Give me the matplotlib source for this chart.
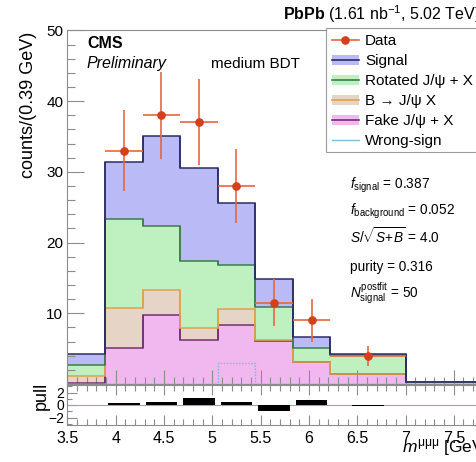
import numpy as np
import matplotlib
matplotlib.use('Agg')
import matplotlib.pyplot as plt
from matplotlib.patches import Rectangle
from matplotlib.ticker import MultipleLocator, FixedLocator, NullFormatter

plt.rcParams['font.family'] = ['Liberation Sans', 'DejaVu Sans']
plt.rcParams['mathtext.fontset'] = 'custom'
plt.rcParams['mathtext.rm'] = 'Liberation Sans'
plt.rcParams['mathtext.it'] = 'Liberation Sans:italic'
plt.rcParams['mathtext.bf'] = 'Liberation Sans:bold'
plt.rcParams['mathtext.sf'] = 'Liberation Sans'

# ---------------- data ----------------
bin_edges = [3.5, 3.889, 4.278, 4.667, 5.056, 5.444, 5.833, 6.222, 7.0, 8.0]
fake = [0.15, 5.05, 9.8, 6.2, 8.35, 6.15, 3.07, 1.41, 0.25]
b_to_jpsi = [1.0, 5.65, 3.5, 1.77, 2.25, 0.05, 0.03, 0.04, 0.02]
rotated = [1.55, 12.6, 9.0, 9.43, 6.2, 4.7, 1.95, 2.7, 0.03]
signal = [1.6, 8.1, 12.8, 13.1, 8.8, 3.9, 1.55, 0.03, 0.0]
wrong_sign = [0.0, 0.0, 0.0, 0.0, 3.0, 0.0, 0.0, 0.0, 0.0]

data_bins = [1, 2, 3, 4, 5, 6, 7]
data_vals = [33, 38, 37, 28, 11.5, 9, 4]
data_errs = [5.74, 6.16, 6.08, 5.29, 3.3, 3.0, 1.41]
pull_vals = [0.3, 0.5, 1.05, 0.45, -0.95, 0.75, -0.08]

legend_labels = ['Data', 'Signal', 'Rotated J/\u03c8 + X', 'B \u2192 J/\u03c8 X',
                 'Fake J/\u03c8 + X', 'Wrong-sign']
info_texts = [r'$f_{\mathrm{signal}}$ = 0.387',
              r'$f_{\mathrm{background}}$ = 0.052',
              r'$S/\sqrt{S\!+\!B}$ = 4.0',
              'purity = 0.316',
              r'$N^{\mathrm{postfit}}_{\mathrm{signal}}$ = 50']

# ---------------- styles ----------------
c_sig_f, c_sig_e = '#babaf7', '#2c2c64'
c_rot_f, c_rot_e = '#bff0c0', '#3a7c52'
c_b_f, c_b_e = '#e6d5c6', '#dfa24a'
c_fake_f, c_fake_e = '#f1b8f0', '#72306f'
c_ws = '#7cc0d4'
c_data = '#d4401c'
c_data_err = '#e2693f'
grey = '#8c8c8c'

W, H = 477, 462
fig = plt.figure(figsize=(W / 100, H / 100), dpi=100)

def fx(p):
    return p / W

def fy(p):
    return 1 - p / H

x_left, x_right = 67.4, 495.0
px_per_gev = 96.6
xmax = 3.5 + (x_right - x_left) / px_per_gev

ax = fig.add_axes([fx(x_left), fy(384), (x_right - x_left) / W, (384 - 29.7) / H])
axp = fig.add_axes([fx(x_left), fy(425), (x_right - x_left) / W, 40 / H])

edges = np.array(bin_edges)
fake_a = np.array(fake)
b_a = np.array(b_to_jpsi)
rot_a = np.array(rotated)
sig_a = np.array(signal)

t1 = fake_a
t2 = t1 + b_a
t3 = t2 + rot_a
t4 = t3 + sig_a

layers = [(np.zeros_like(t1), t1, c_fake_f, c_fake_e),
          (t1, t2, c_b_f, c_b_e),
          (t2, t3, c_rot_f, c_rot_e),
          (t3, t4, c_sig_f, c_sig_e)]
for lo, hi, fc, ec in layers:
    ax.stairs(hi, edges, baseline=lo, fill=True, color=fc, lw=0, zorder=1)
for lo, hi, fc, ec in layers:
    ax.stairs(hi, edges, baseline=None, fill=False, color=ec, lw=1.1, zorder=2)
    # vertical edges between bins
    ax.vlines(edges[1:-1], np.minimum(hi[:-1], hi[1:]), np.maximum(hi[:-1], hi[1:]),
              color=ec, lw=1.1, zorder=2)

ax.stairs(wrong_sign, edges, baseline=0, fill=False, color=c_ws, lw=1.0,
          linestyle=(0, (1.2, 1.0)), zorder=3)
ax.axhline(0, color=c_ws, lw=1.0, zorder=3)

centers = 0.5 * (edges[:-1] + edges[1:])
halfw = 0.5 * (edges[1:] - edges[:-1])
dx = centers[data_bins]
dxe = halfw[data_bins]
ax.errorbar(dx, data_vals, yerr=data_errs, xerr=dxe, fmt='none', ecolor=c_data_err,
            elinewidth=1.2, capsize=0, zorder=5)
ax.plot(dx, data_vals, 'o', color=c_data, ms=5.2, zorder=6)

ax.set_xlim(3.5, xmax)
ax.set_ylim(0, 50.1)
ax.set_yticks([10, 20, 30, 40, 50])
ax.yaxis.set_minor_locator(FixedLocator([v for v in range(2, 50, 2) if v % 10 != 0]))
ax.xaxis.set_major_locator(MultipleLocator(0.5))
ax.xaxis.set_minor_locator(MultipleLocator(0.1))
ax.xaxis.set_major_formatter(NullFormatter())
ax.tick_params(axis='both', which='both', direction='in', color=grey, labelsize=11,
               top=False, right=False)
ax.tick_params(axis='y', which='major', length=12, width=0.8, pad=3)
ax.tick_params(axis='y', which='minor', length=6, width=0.8)
ax.tick_params(axis='x', which='major', length=10, width=0.8)
ax.tick_params(axis='x', which='minor', length=5, width=0.8)
for s in ax.spines.values():
    s.set_color(grey)
    s.set_linewidth(0.8)

# pull panel
pw = 0.327
axp.bar(dx, pull_vals, width=pw, color='black', zorder=3)
axp.axhline(0, color='#8aa4d6', lw=0.8, zorder=2)
axp.set_xlim(3.5, xmax)
axp.set_ylim(-3.2, 3.2)
axp.set_yticks([-2, 0, 2])
axp.set_yticklabels(['\u22122', '0', '2'])
axp.yaxis.set_minor_locator(FixedLocator([-3, -1, 1, 3]))
axp.xaxis.set_major_locator(MultipleLocator(0.5))
axp.xaxis.set_minor_locator(MultipleLocator(0.1))
axp.set_xticks([3.5, 4, 4.5, 5, 5.5, 6, 6.5, 7, 7.5])
axp.set_xticklabels(['3.5', '4', '4.5', '5', '5.5', '6', '6.5', '7', '7.5'])
axp.tick_params(axis='both', which='both', direction='in', color=grey,
                top=True, bottom=True, right=False)
axp.tick_params(axis='x', which='major', length=7, width=0.8, labelsize=11.5, pad=4)
axp.tick_params(axis='x', which='minor', length=4, width=0.8)
axp.tick_params(axis='y', which='major', length=7, width=0.8, labelsize=10, pad=2)
axp.tick_params(axis='y', which='minor', length=3.5, width=0.8)
for s in axp.spines.values():
    s.set_color(grey)
    s.set_linewidth(0.8)

# overlay for texts / legend in pixel coordinates
ov = fig.add_axes([0, 0, 1, 1], zorder=10)
ov.set_xlim(0, W)
ov.set_ylim(H, 0)
ov.axis('off')
ov.patch.set_alpha(0)

ov.text(29, 32, 'counts/(0.39 GeV)', rotation=90, ha='center', va='top', fontsize=13)
ov.text(41, 396, 'pull', rotation=90, ha='center', va='center', fontsize=13)
ov.text(402, 452, r'$m^{\mathrm{\mu\mu\mu}}$ [GeV]', ha='left', va='baseline', fontsize=12.5)

ov.text(87, 48.3, 'CMS', fontweight='bold', fontsize=11.5, va='baseline')
ov.text(87, 68.3, 'Preliminary', style='italic', fontsize=11.5, va='baseline')
ov.text(210.7, 68.3, 'medium BDT', fontsize=11, va='baseline')
ov.text(283, 20, r'$\mathbf{PbPb}$ (1.61 nb$^{-1}$, 5.02 TeV)', fontsize=11.5, va='baseline')

info_base = [188.3, 215, 243.3, 271, 297.7]
for t, yb in zip(info_texts, info_base):
    ov.text(350, yb, t, fontsize=9.8, va='baseline')

# legend
ov.add_patch(Rectangle((326, 27.7), 170, 124, fc='white', ec='#9a9a9a', lw=0.8, zorder=1))
leg_base = [45, 65, 85, 105, 125, 145.3]
hx0, hx1 = 331.7, 359.3
fills = [None, (c_sig_f, c_sig_e), (c_rot_f, c_rot_e), (c_b_f, c_b_e), (c_fake_f, c_fake_e), None]
for i, (lab, yb) in enumerate(zip(legend_labels, leg_base)):
    yc = yb - 5.5
    if i == 0:
        ov.plot([hx0, hx1], [yc, yc], color=c_data_err, lw=1.2, zorder=2)
        ov.plot([(hx0 + hx1) / 2], [yc], 'o', color=c_data, ms=5.2, zorder=3)
    elif i == 5:
        ov.plot([hx0, hx1], [yc, yc], color=c_ws, lw=1.0, zorder=2)
    else:
        fc, ec = fills[i]
        ov.add_patch(Rectangle((hx0, yc - 5), hx1 - hx0, 10, fc=fc, ec='none', zorder=2))
        ov.plot([hx0, hx1], [yc, yc], color=ec, lw=1.2, zorder=3)
    ov.text(365, yb, lab, fontsize=11, va='baseline', zorder=4)

fig.savefig('out.png', dpi=100)
